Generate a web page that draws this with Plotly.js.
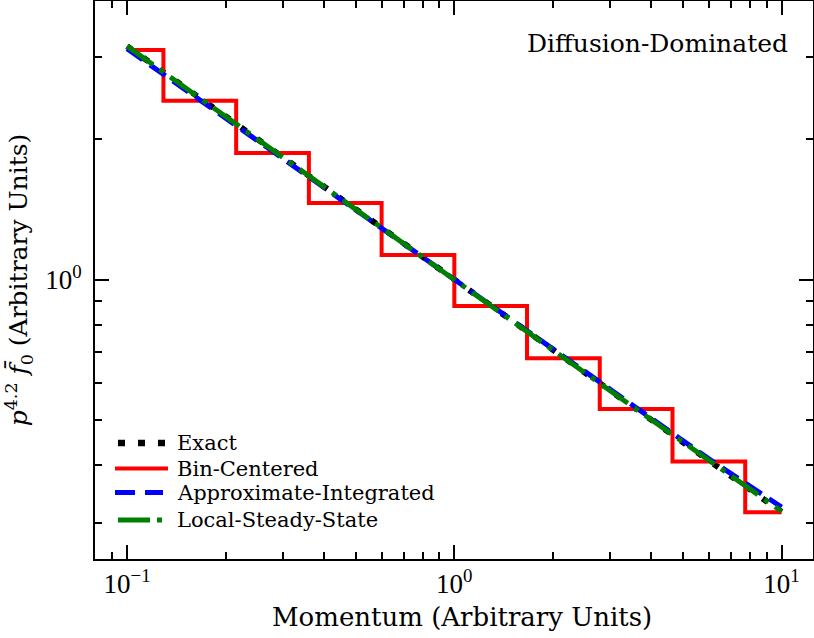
<!DOCTYPE html>
<html>
<head>
<meta charset="utf-8">
<script src="https://cdn.plot.ly/plotly-3.0.1.min.js"></script>
<style>html,body{margin:0;padding:0;background:#fff;}#chart{width:814px;height:638px;}</style>
</head>
<body>
<div id="chart"></div>
<script>
// Momentum grid (bin centres)
const momentum = [0.1, 0.1668, 0.2783, 0.4642, 0.7743, 1.2915, 2.154, 3.594, 5.995, 10];
// Series values
const exactVals = [3.17, 2.45, 1.895, 1.468, 1.136, 0.880, 0.681, 0.527, 0.408, 0.317];
const binCenteredVals = [3.11, 2.42, 1.87, 1.46, 1.129, 0.877, 0.678, 0.527, 0.407, 0.3165];
const approxIntegratedVals = [3.13, 2.43, 1.885, 1.463, 1.135, 0.881, 0.684, 0.531, 0.412, 0.3246];
const localSteadyVals = [3.17, 2.45, 1.892, 1.467, 1.135, 0.879, 0.680, 0.527, 0.408, 0.318];
const seriesNames = ["Exact", "Bin-Centered", "Approximate-Integrated", "Local-Steady-State"];
const xTickVals = [0.1, 1, 10];
const xTickText = ["10<sup>\u22121</sup>", "10<sup>0</sup>", "10<sup>1</sup>"];
const yTickVals = [1];
const yTickText = ["10<sup>0</sup>"];
const xMinorVals = [0.09, 0.2, 0.3, 0.4, 0.5, 0.6, 0.7, 0.8, 0.9, 2, 3, 4, 5, 6, 7, 8, 9];
const yMinorVals = [0.3, 0.4, 0.5, 0.6, 0.7, 0.8, 0.9, 2, 3];
const xTitle = "Momentum (Arbitrary Units)";
const yTitle = "<i>p</i><sup>4.2</sup> <i>f\u0304</i><sub>0</sub> (Arbitrary Units)";
const panelLabel = "Diffusion-Dominated";

const SERIF = "'DejaVu Serif', serif";
const TICKFONT = "'Liberation Serif', serif";

const styles = [
  {color: "black", width: 6, dash: "6px,14px"},
  {color: "#ff0000", width: 4, shape: "hvh"},
  {color: "#0000ff", width: 5, dash: "19px,9px"},
  {color: "#008000", width: 5, dash: "32px,8px,5px,8px"}
];
const seriesVals = [exactVals, binCenteredVals, approxIntegratedVals, localSteadyVals];

const traces = seriesVals.map((v, i) => ({
  x: momentum, y: v, name: seriesNames[i], mode: "lines", line: styles[i]
}));

// legend drawn in paper coordinates (plot area: 718 x 558 px)
const W = 718, H = 558;
const px = p => (p - 95) / W;
const py = p => (559 - p) / H;
const legRows = [443, 468.5, 492.5, 520];
const legSample = [[118, 165, "7px,13px", 6.5], [115, 168, "solid", 4], [115, 163, "20px,10px", 5], [118, 162, "32px,7px,5px,7px", 5]];
const shapes = legSample.map((s, i) => ({
  type: "line", xref: "paper", yref: "paper",
  x0: px(s[0]), x1: px(s[1]), y0: py(legRows[i]), y1: py(legRows[i]),
  line: {color: styles[i].color, width: s[3], dash: s[2]}
}));
const annotations = seriesNames.map((n, i) => ({
  xref: "paper", yref: "paper", x: px(175), y: py(legRows[i]),
  xanchor: "left", yanchor: "middle", showarrow: false, text: n,
  font: {family: SERIF, size: 21, color: "black"}
}));
annotations.push({
  xref: "paper", yref: "paper", x: px(790), y: py(43), xanchor: "right", yanchor: "middle",
  text: panelLabel, showarrow: false,
  font: {family: SERIF, size: 25, color: "black"}
});
annotations.push({
  xref: "paper", yref: "paper", x: px(462), y: py(617), xanchor: "center", yanchor: "middle",
  text: xTitle, showarrow: false,
  font: {family: SERIF, size: 26, color: "black"}
});

const axisCommon = {
  type: "log", showgrid: false, zeroline: false,
  showline: true, linecolor: "black", linewidth: 2, mirror: "ticks",
  ticks: "inside", ticklen: 14, tickwidth: 2, tickcolor: "black",
  tickfont: {family: TICKFONT, size: 27, color: "black"},
  tickmode: "array"
};

const layout = {
  width: 814, height: 638,
  margin: {l: 95, r: 1, t: 1, b: 79},
  paper_bgcolor: "white", plot_bgcolor: "white",
  font: {family: SERIF, color: "black"},
  showlegend: false,
  xaxis: Object.assign({}, axisCommon, {
    range: [-1.098, 1.096],
    tickvals: xTickVals, ticktext: xTickText,
    ticklabelstandoff: 0,
    minor: {tickmode: "array", tickvals: xMinorVals, ticks: "inside", ticklen: 7, tickwidth: 2, tickcolor: "black"}
  }),
  yaxis: Object.assign({}, axisCommon, {
    range: [-0.6, 0.598],
    tickvals: yTickVals, ticktext: yTickText,
    ticklabelstandoff: 6,
    minor: {tickmode: "array", tickvals: yMinorVals, ticks: "inside", ticklen: 7, tickwidth: 2, tickcolor: "black"},
    title: {text: yTitle, font: {family: SERIF, size: 25, color: "black"}, standoff: 10}
  }),
  shapes: shapes,
  annotations: annotations
};

Plotly.newPlot("chart", traces, layout, {displayModeBar: false, staticPlot: true});
</script>
</body>
</html>
